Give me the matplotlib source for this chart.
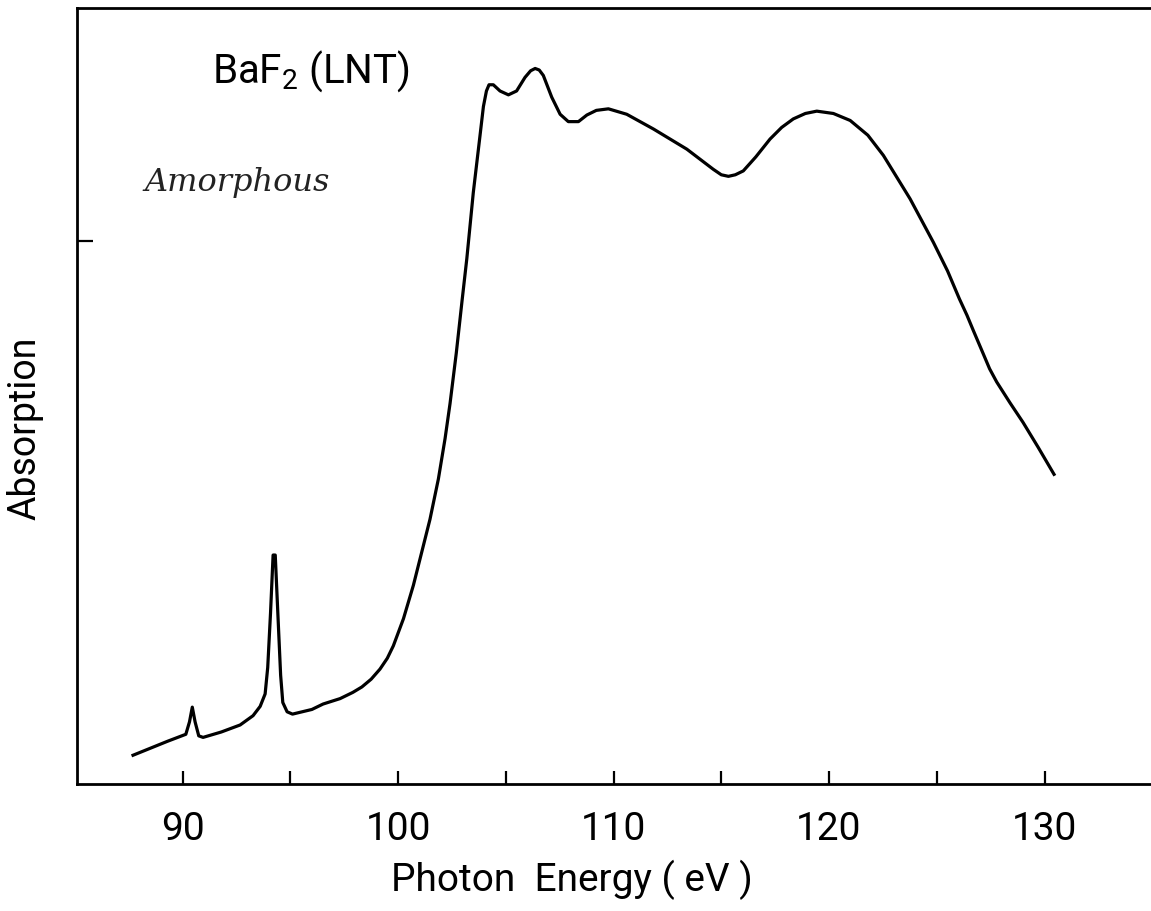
import matplotlib
matplotlib.use("Agg")
import matplotlib.pyplot as plt

# font setup - a narrow-ish sans to mimic the old lettering
plt.rcParams['font.family'] = ['Roboto', 'DejaVu Sans']
plt.rcParams['mathtext.fontset'] = 'custom'
plt.rcParams['mathtext.rm'] = 'Roboto'

# photon energy (eV) and absorption (arb. units)
energy = [87.70, 88.5, 89.3, 90.15, 90.32, 90.45, 90.58, 90.75, 90.95, 91.8,
          92.67, 93.27, 93.6, 93.83, 93.95, 94.08, 94.2, 94.3, 94.42, 94.55,
          94.65, 94.85, 95.1, 96.0, 96.52, 97.31, 97.9, 98.32, 98.75, 99.16,
          99.5, 99.78, 100.25, 100.71, 101.1, 101.48, 101.87, 102.18, 102.41, 102.7,
          102.97, 103.19, 103.49, 103.8, 103.96, 104.1, 104.22, 104.42, 104.73, 105.12,
          105.5, 105.89, 106.15, 106.36, 106.55, 106.74, 107.13, 107.52, 107.9, 108.37,
          108.76, 109.2, 109.76, 110.61, 111.85, 113.4, 114.63, 115.0, 115.33, 115.65,
          116.02, 116.6, 117.26, 117.8, 118.34, 118.9, 119.43, 120.2, 120.98, 121.8,
          122.52, 123.76, 124.84, 125.5, 126.05, 126.4, 126.7, 127.16, 127.45, 127.78,
          128.4, 129.0, 129.7, 130.44]
absorption = [3.7, 4.6, 5.5, 6.4, 8.0, 9.9, 8.0, 6.2, 6.0, 6.7,
              7.6, 8.8, 10.0, 11.6, 15.0, 22.0, 29.5, 29.5, 22.0, 14.0,
              10.5, 9.3, 9.0, 9.6, 10.3, 11.0, 11.8, 12.5, 13.5, 14.8,
              16.2, 17.8, 21.3, 25.6, 29.9, 34.1, 39.3, 44.5, 49.0, 55.5,
              62.3, 67.7, 76.2, 83.5, 87.3, 89.3, 90.1, 90.1, 89.3, 88.8,
              89.3, 91.05, 91.9, 92.2, 92.0, 91.3, 88.5, 86.3, 85.35, 85.35,
              86.2, 86.8, 87.0, 86.3, 84.4, 81.8, 79.2, 78.5, 78.3, 78.5,
              79.0, 80.8, 83.1, 84.6, 85.7, 86.4, 86.7, 86.4, 85.5, 83.6,
              81.0, 75.4, 69.8, 66.1, 62.5, 60.4, 58.4, 55.4, 53.5, 51.8,
              49.1, 46.6, 43.4, 39.9]

xticks = [90, 100, 110, 120, 130]
xminor = [95, 105, 115, 125]

fig = plt.figure(figsize=(11.51, 9.12), dpi=100)
ax = fig.add_axes([0.0669, 0.1393, 0.9331, 0.8509])

ax.plot(energy, absorption, color='black', lw=2.3, solid_joinstyle='round')

ax.set_xlim(85.1, 134.94)
ax.set_ylim(0, 100)

ax.set_xticks(xticks)
ax.set_xticklabels([str(t) for t in xticks])
ax.set_xticks(xminor, minor=True)
ax.set_yticks([70])
ax.set_yticklabels([])
ax.tick_params(axis='x', which='both', direction='in', length=9.5, width=1.6,
               labelsize=28, pad=19, top=False)
ax.tick_params(axis='y', direction='in', length=11.5, width=1.6, right=False)

for side in ['left', 'bottom', 'top']:
    ax.spines[side].set_linewidth(2.0)
ax.spines['right'].set_visible(False)

# the x label sits left of the axes centre in the original
ax.set_xlabel('Photon  Energy ( eV )', fontsize=28)
ax.xaxis.set_label_coords(0.461, -0.097)
ax.set_ylabel('Absorption', fontsize=27)
ax.yaxis.set_label_coords(-0.031, 0.46)

# labels inside the plot
ax.text(0.126, 0.905, 'BaF$_2$ (LNT)', transform=ax.transAxes, fontsize=29)
ax.text(0.063, 0.765, 'Amorphous', transform=ax.transAxes, fontsize=23,
        family='DejaVu Serif', style='italic', color='#222222')

fig.savefig('out.png', dpi=100)
